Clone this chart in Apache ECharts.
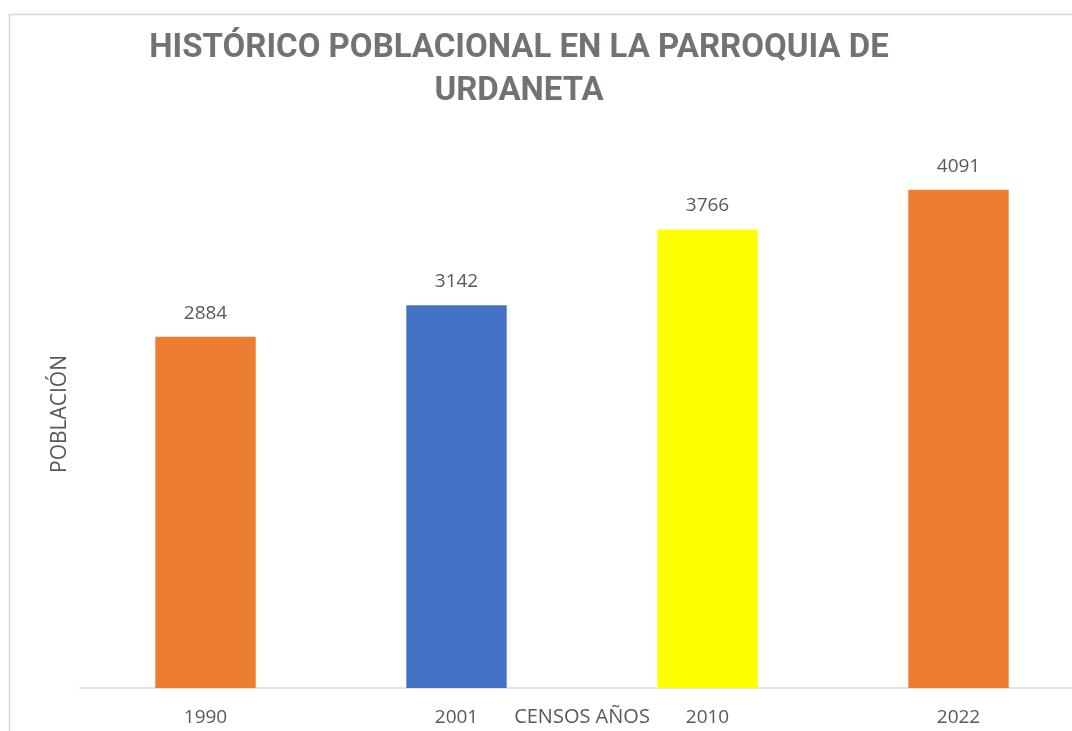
<!DOCTYPE html>
<html>
<head>
<meta charset="utf-8">
<script src="https://cdn.jsdelivr.net/npm/echarts@6/dist/echarts.min.js"></script>
<style>
  html, body { margin: 0; padding: 0; background: #fff; }
  #main { width: 1072px; height: 731px; }
</style>
</head>
<body>
<div id="main"></div>
<script>
// census years and population
const years = ["1990", "2001", "2010", "2022"];
const population = [2884, 3142, 3766, 4091];
const barColors = ["#ED7D31", "#4472C4", "#FFFF00", "#ED7D31"];

const chartDom = document.getElementById("main");
const myChart = echarts.init(chartDom);

const font = "Open Sans, Roboto, sans-serif";

const option = {
  animation: false,
  title: {
    text: "HISTÓRICO POBLACIONAL EN LA PARROQUIA DE\nURDANETA",
    left: 514,
    top: 22,
    textAlign: "center",
    textStyle: {
      fontFamily: "Roboto, sans-serif",
      fontWeight: "bold",
      fontSize: 33,
      lineHeight: 43,
      color: "#767171",
    },
  },
  graphic: [
    {
      type: "rect",
      left: 7,
      top: 12,
      shape: { width: 1100, height: 800 },
      style: { fill: "none", stroke: "#d9d9d9", lineWidth: 1.5 },
      silent: true,
    },
  ],
  grid: {
    left: 80,
    top: 140,
    width: 1004,
    height: 548,
    outerBoundsMode: "none",
    containLabel: false,
  },
  xAxis: {
    type: "category",
    data: years,
    name: "CENSOS AÑOS",
    nameLocation: "middle",
    nameGap: 19,
    nameMoveOverlap: false,
    nameTextStyle: { fontFamily: font, fontSize: 20, color: "#595959" },
    axisLine: { lineStyle: { color: "#d9d9d9", width: 1.5 } },
    axisTick: { show: false },
    axisLabel: { fontFamily: font, fontSize: 19, color: "#595959", margin: 20 },
  },
  yAxis: {
    type: "value",
    min: 0,
    max: 4500,
    interval: 500,
    name: "POBLACIÓN",
    nameLocation: "middle",
    nameGap: 9,
    nameTextStyle: { fontFamily: font, fontSize: 21, color: "#595959" },
    axisLine: { show: false },
    axisTick: { show: false },
    axisLabel: { show: false },
    splitLine: { show: false },
  },
  series: [
    {
      type: "bar",
      barWidth: "40%",
      data: population,
      itemStyle: {
        color: function (params) {
          return barColors[params.dataIndex % barColors.length];
        },
      },
      label: {
        show: true,
        position: "top",
        distance: 14,
        fontFamily: font,
        fontSize: 19,
        color: "#595959",
      },
    },
  ],
};

option && myChart.setOption(option);
</script>
</body>
</html>
